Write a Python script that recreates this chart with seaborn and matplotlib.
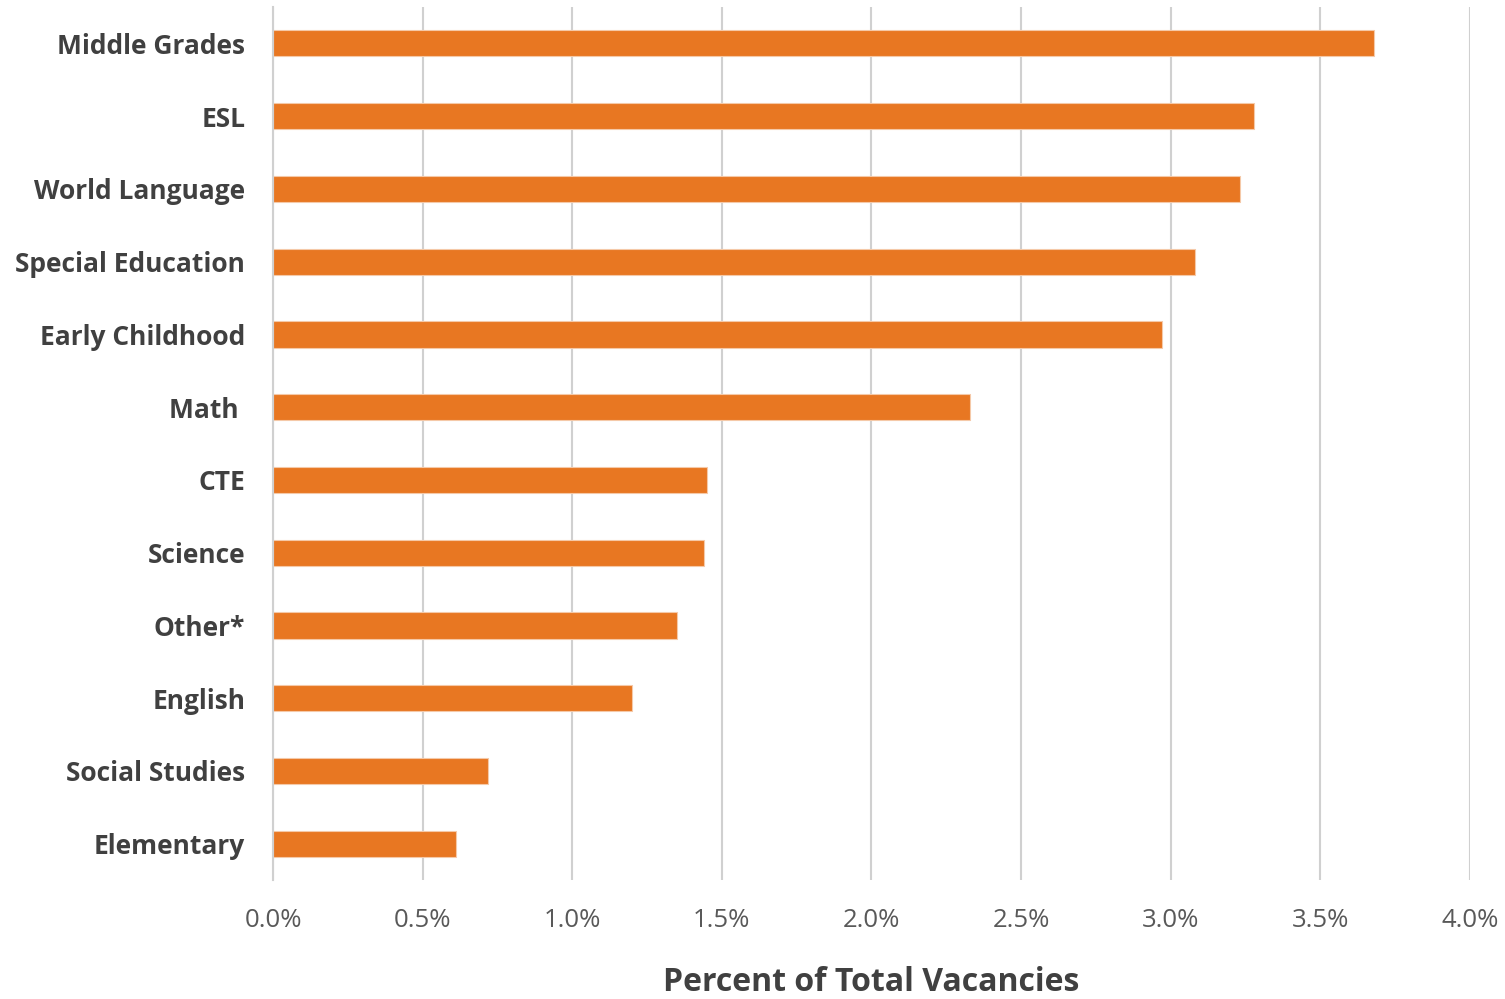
import matplotlib
matplotlib.use('Agg')
import matplotlib.pyplot as plt
import pandas as pd
import seaborn as sns
from matplotlib.ticker import PercentFormatter

# Datos
subjects = ['Middle Grades', 'ESL', 'World Language', 'Special Education',
            'Early Childhood', 'Math ', 'CTE', 'Science', 'Other*',
            'English', 'Social Studies', 'Elementary']
percents = [3.68, 3.28, 3.23, 3.08, 2.97, 2.33, 1.45, 1.44, 1.35, 1.20, 0.72, 0.61]

df = pd.DataFrame({'subject': subjects, 'pct': percents})

sns.set_style('white')
plt.rcParams['font.family'] = ['Open Sans', 'DejaVu Sans']

fig, ax = plt.subplots(figsize=(15.05, 9.99), dpi=100)
fig.subplots_adjust(left=0.1814, right=0.9767, top=0.993, bottom=0.119)

sns.barplot(data=df, x='pct', y='subject', order=subjects, color='#E87722',
            saturation=1, width=0.36, edgecolor='#f5c9a8', linewidth=0.8, ax=ax)

ax.set_xlim(0, 4.0)
ax.set_xticks([0, 0.5, 1.0, 1.5, 2.0, 2.5, 3.0, 3.5, 4.0])
ax.xaxis.set_major_formatter(PercentFormatter(decimals=1))
ax.grid(axis='x', color='#d0d0d0', linewidth=1.5)
ax.set_axisbelow(True)

for side in ['top', 'right', 'bottom']:
    ax.spines[side].set_visible(False)
ax.spines['left'].set_color('#d0d0d0')
ax.spines['left'].set_linewidth(1.5)

ax.tick_params(axis='both', length=0)
ax.tick_params(axis='y', pad=20, labelsize=19, labelcolor='#404040')
ax.tick_params(axis='x', pad=20, labelsize=18.5, labelcolor='#595959')
for lbl in ax.get_yticklabels():
    lbl.set_fontweight('bold')

ax.set_ylabel('')
ax.set_xlabel('Percent of Total Vacancies', fontsize=23, fontweight='bold',
              color='#404040', labelpad=24)

fig.savefig('out.png', dpi=100)
